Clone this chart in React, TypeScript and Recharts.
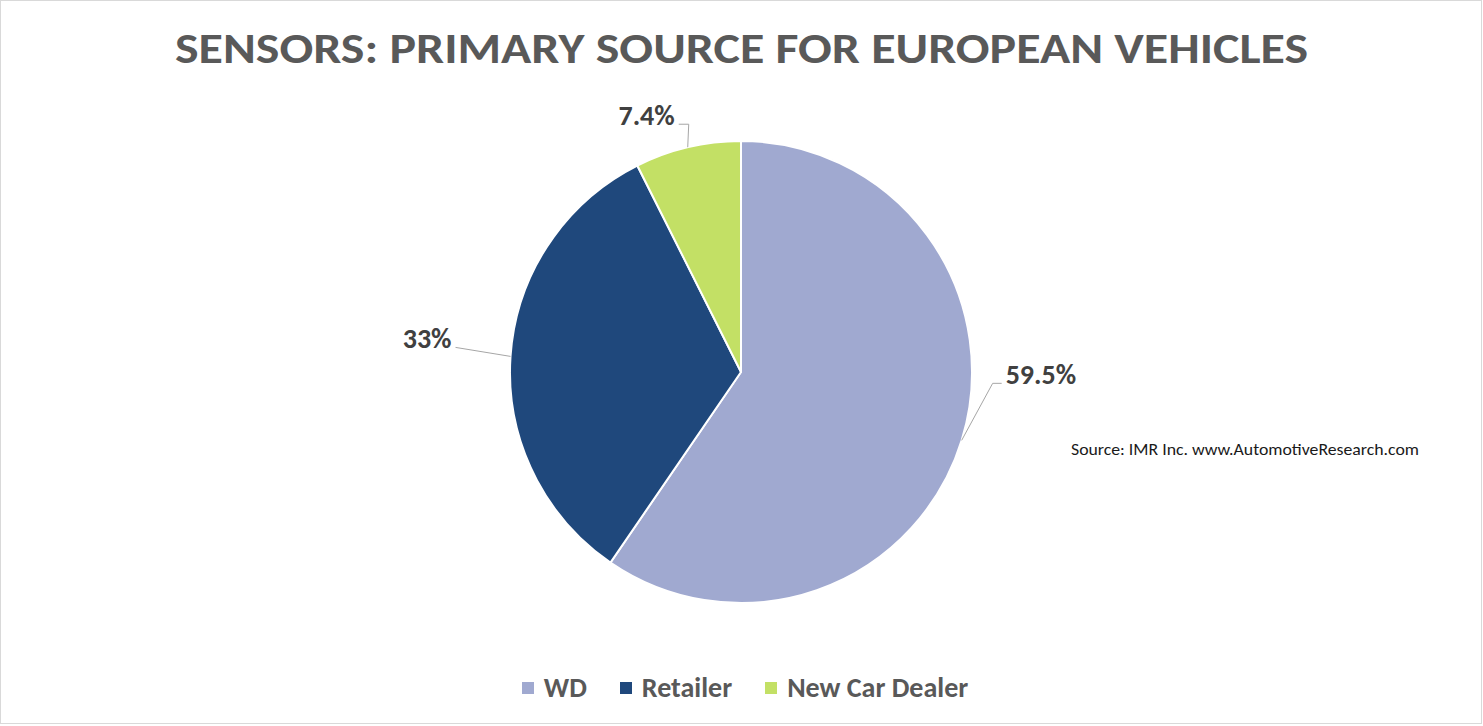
import { PieChart, Pie, Cell, Legend } from 'recharts';

const categories = ['WD', 'Retailer', 'New Car Dealer'];
const shares = [59.5, 33, 7.4];
const shareLabels = ['59.5%', '33%', '7.4%'];
const sliceColors = ['#A0A9D0', '#1F487C', '#C3E065'];

const titleText = 'SENSORS: PRIMARY SOURCE FOR EUROPEAN VEHICLES';
const sourceText = 'Source: IMR Inc. www.AutomotiveResearch.com';

const data = categories.map((name, i) => ({ name, value: shares[i] }));

const FONT = "Calibri, Carlito, 'Open Sans', sans-serif";

// leader line layout for each label: elbow offset from the slice edge, then a short horizontal run
const labelLayout = [
  { dx: 31, dy: -57, run: 9, side: 1 },
  { dx: -55, dy: -9, run: 0, side: -1 },
  { dx: 1, dy: -23, run: -10, side: -1 },
];

const RAD = Math.PI / 180;

function renderLabel(props: any) {
  const { cx, cy, midAngle, outerRadius, index } = props;
  const x0 = cx + outerRadius * Math.cos(-midAngle * RAD);
  const y0 = cy + outerRadius * Math.sin(-midAngle * RAD);
  const lay = labelLayout[index];
  const x1 = x0 + lay.dx;
  const y1 = y0 + lay.dy;
  const x2 = x1 + lay.run;
  return (
    <g>
      <polyline
        points={`${x0},${y0} ${x1},${y1} ${x2},${y1}`}
        fill="none"
        stroke="#A6A6A6"
        strokeWidth={1}
      />
      <text
        x={x2 + lay.side * 4}
        y={y1 + 1}
        textAnchor={lay.side > 0 ? 'start' : 'end'}
        fill="#404040"
        fontFamily={FONT}
        fontWeight={700}
        fontSize={28}
      >
        {shareLabels[index]}
      </text>
    </g>
  );
}

function LegendContent(props: any) {
  const items = [...(props.payload || [])].sort(
    (a: any, b: any) => categories.indexOf(a.value) - categories.indexOf(b.value)
  );
  return (
    <div
      style={{
        display: 'flex',
        justifyContent: 'center',
        alignItems: 'center',
        gap: 33,
        fontFamily: FONT,
        fontWeight: 700,
        fontSize: 28,
        lineHeight: '34px',
        height: 34,
        color: '#595959',
        paddingLeft: 8,
      }}
    >
      {items.map((entry: any) => (
        <div key={entry.value} style={{ display: 'flex', alignItems: 'center', gap: 10 }}>
          <span style={{ width: 12, height: 12, background: entry.color, display: 'inline-block' }} />
          <span>{entry.value}</span>
        </div>
      ))}
    </div>
  );
}

export default function App() {
  return (
    <div
      style={{
        position: 'absolute',
        left: 0,
        top: 0,
        width: 1482,
        height: 724,
        border: '1px solid #D9D9D9',
        boxSizing: 'border-box',
        background: '#fff',
      }}
    >
      <div style={{ position: 'absolute', left: -1, top: -1 }}>
        <PieChart width={1482} height={724} margin={{ top: 0, right: 0, bottom: 0, left: 0 }}>
          <Pie
            data={data}
            dataKey="value"
            nameKey="name"
            cx={741}
            cy={372}
            outerRadius={231}
            startAngle={90}
            endAngle={-270}
            stroke="#FFFFFF"
            strokeWidth={2}
            label={renderLabel}
            labelLine={false}
            isAnimationActive={false}
          >
            {data.map((d, i) => (
              <Cell key={d.name} fill={sliceColors[i]} />
            ))}
          </Pie>
          <Legend
            content={<LegendContent />}
            wrapperStyle={{ position: 'absolute', left: 0, top: 671, width: 1482 }}
          />
        </PieChart>
      </div>
      <svg
        width={1482}
        height={724}
        style={{ position: 'absolute', left: -1, top: -1, pointerEvents: 'none' }}
      >
        <text
          x={741.5}
          y={63}
          textAnchor="middle"
          fontFamily={FONT}
          fontWeight={700}
          fontSize={42}
          fill="#595959"
          textLength={1133}
          lengthAdjust="spacingAndGlyphs"
        >
          {titleText}
        </text>
        <text
          x={1071}
          y={455}
          fontFamily={FONT}
          fontSize={16}
          fill="#1A1A1A"
          textLength={348}
          lengthAdjust="spacingAndGlyphs"
        >
          {sourceText}
        </text>
      </svg>
    </div>
  );
}
